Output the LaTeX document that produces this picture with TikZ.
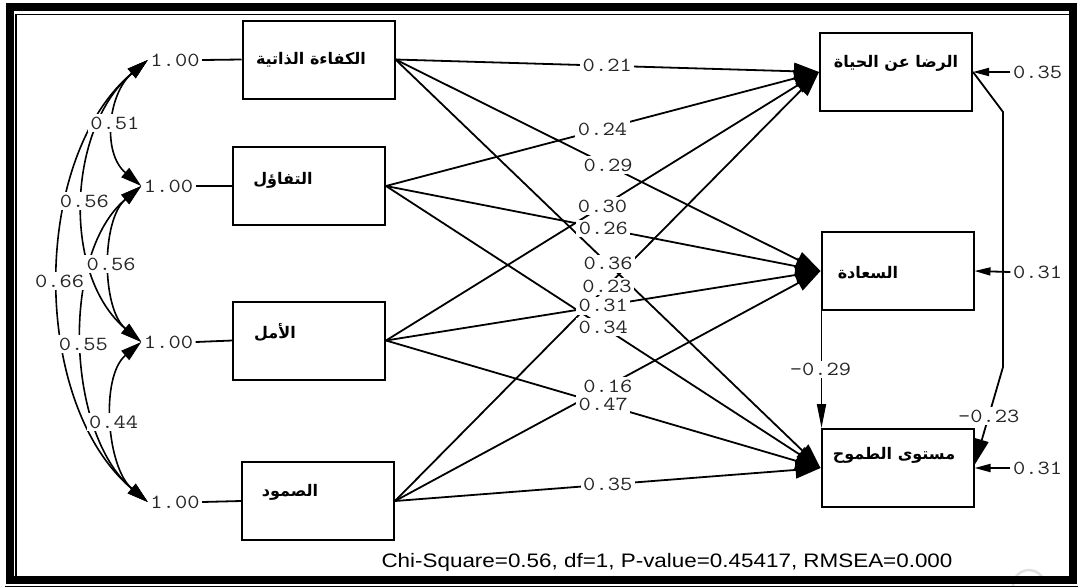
\documentclass[tikz,border=0pt]{standalone}
\usepackage{fontspec}
\usepackage{graphicx}
\usetikzlibrary{arrows.meta, calc}
\TeXXeTstate=1
\newfontfamily\arabfont[Script=Arabic]{DejaVu Sans}
\newfontfamily\coeffont[FakeStretch=1.19]{Latin Modern Mono}
\setsansfont{Liberation Sans}

\begin{document}
\begin{tikzpicture}[
    x=1pt, y=1pt,
    % Kaesten der Variablen
    varbox/.style={draw, line width=2pt, minimum width=152pt, minimum height=78pt, inner sep=0pt},
    % arabische Beschriftung
    vartext/.style={font=\arabfont\bfseries\fontsize{16}{18}\selectfont, inner sep=0pt},
    % Koeffizienten
    coef/.style={font=\coeffont\fontsize{20}{22}\selectfont, text=black!85, fill=white, inner sep=2.5pt},
    link/.style={line width=1.8pt},
    effect/.style={line width=1.8pt, -{Triangle[length=25pt,width=17pt]}},
    resid/.style={line width=1.8pt, -{Triangle[length=16pt,width=8pt]}},
    cov/.style={line width=1.6pt, {Triangle[length=21pt,width=12pt]}-{Triangle[length=21pt,width=12pt]}}
]
\useasboundingbox (0,0) rectangle (1078,-587);

% Rahmen
\draw[gray!25, line width=2.5pt] (1013,-586) arc[start angle=180, end angle=15, radius=16];
\draw[line width=8pt] (10,-7) rectangle (1073,-580);
\draw[line width=1.2pt] (16,-577) -- (16,-14.5) -- (1069,-14.5);
\draw[line width=1pt] (5,-586.5) -- (1078,-586.5);

% Variablen
\node[varbox] (kaf) at (318.5,-59.5) {};
\node[varbox] (taf) at (309,-186) {};
\node[varbox] (amal) at (309,-340.5) {};
\node[varbox] (sum) at (318,-501) {};
\node[varbox] (rida) at (896,-72) {};
\node[varbox] (saa) at (897.5,-271) {};
\node[varbox] (tum) at (897.5,-468) {};

\node[vartext] (kaf-t) at (311,-60) {\beginR الكفاءة الذاتية\endR};
\node[vartext] (taf-t) at (283,-180) {\beginR التفاؤل\endR};
\node[vartext] (amal-t) at (275,-332) {\beginR الأمل\endR};
\node[vartext] (sum-t) at (290,-492) {\beginR الصمود\endR};
\node[vartext] (rida-t) at (896,-63) {\beginR الرضا عن الحياة\endR};
\node[vartext] (saa-t) at (868,-273) {\beginR السعادة\endR};
\node[vartext] (tum-t) at (894,-455) {\beginR مستوى الطموح\endR};

% Varianzen links
\node[coef] (kaf-v) at (175,-60) {1.00};
\node[coef] (taf-v) at (168.5,-186) {1.00};
\node[coef] (amal-v) at (168.5,-342) {1.00};
\node[coef] (sum-v) at (175,-502) {1.00};
\draw[link] (kaf-v.east) -- (kaf.west);
\draw[link] (taf-v.east) -- (taf.west);
\draw[link] (amal-v.east) -- (amal.west);
\draw[link] (sum-v.east) -- (sum.west);

% Pfade
\foreach \s/\t in {kaf/rida, kaf/saa, kaf/tum, taf/rida, taf/saa, taf/tum,
                   amal/rida, amal/saa, amal/tum, sum/rida, sum/saa, sum/tum}
    \draw[effect] (\s.east) -- (\t.west);

% Kovarianzen
\draw[cov] (kaf-v.west) to[out=220, in=140, looseness=1.05] coordinate[pos=.5] (kaf-taf) (taf-v.west);
\draw[cov] (kaf-v.west) to[out=220, in=140, looseness=0.95] coordinate[pos=.5] (kaf-amal) (amal-v.west);
\draw[cov] (kaf-v.west) to[out=220, in=140, looseness=0.89] coordinate[pos=.5] (kaf-sum) (sum-v.west);
\draw[cov] (taf-v.west) to[out=220, in=140, looseness=0.86] coordinate[pos=.5] (taf-amal) (amal-v.west);
\draw[cov] (taf-v.west) to[out=220, in=140, looseness=0.86] coordinate[pos=.5] (taf-sum) (sum-v.west);
\draw[cov] (amal-v.west) to[out=220, in=140, looseness=0.86] coordinate[pos=.5] (amal-sum) (sum-v.west);

% rechte Seite
\coordinate (bend1) at (1003,-112);
\coordinate (bend2) at (1003,-367);
\coordinate (tumin) at ([yshift=3pt]tum.east);
\draw[line width=1.8pt, -{Triangle[length=26pt,width=14pt]}] (rida.east) -- (bend1) -- (bend2) -- (tumin);
\draw[line width=1.8pt, -{Triangle[length=24pt,width=9pt]}] ([xshift=1pt]saa.south west) -- ([xshift=1pt]tum.north west);

\node[coef] (rida-e) at (1037.5,-72) {0.35};
\node[coef] (saa-e) at (1037.5,-272) {0.31};
\node[coef] (tum-e) at (1037.5,-468) {0.31};
\draw[resid] (rida-e.west) -- (rida.east);
\draw[resid] (saa-e.west) -- (saa.east);
\draw[resid] (tum-e.west) -- (tum.east);

% Beschriftungen
\foreach \s/\t/\v in {kaf/rida/0.21, kaf/saa/0.29, kaf/tum/0.36, taf/rida/0.24, taf/saa/0.26, taf/tum/0.34,
                      amal/rida/0.30, amal/saa/0.31, amal/tum/0.47, sum/rida/0.23, sum/saa/0.16, sum/tum/0.35}
    \node[coef] (\s-\t) at ($(\s.east)!.5!(\t.west)$) {\v};

\node[coef] (kaf-taf-l) at (kaf-taf) {0.51};
\node[coef] (kaf-amal-l) at (kaf-amal) {0.56};
\node[coef] (taf-amal-l) at (taf-amal) {0.56};
\node[coef] (kaf-sum-l) at (kaf-sum) {0.66};
\node[coef] (taf-sum-l) at (taf-sum) {0.55};
\node[coef] (amal-sum-l) at (amal-sum) {0.44};

\node[coef] (saa-tum) at ($(saa.south west)!.5!(tum.north west)$) {-0.29};
\node[coef] (rida-tum) at ($(bend2)!.5!(tumin)$) {-0.23};

\node[font=\sffamily\fontsize{19.5}{22}\selectfont, inner sep=0pt] (fit) at (667,-562)
    {\scalebox{1.15}[1]{Chi-Square=0.56, df=1, P-value=0.45417, RMSEA=0.000}};

\end{tikzpicture}
\end{document}
